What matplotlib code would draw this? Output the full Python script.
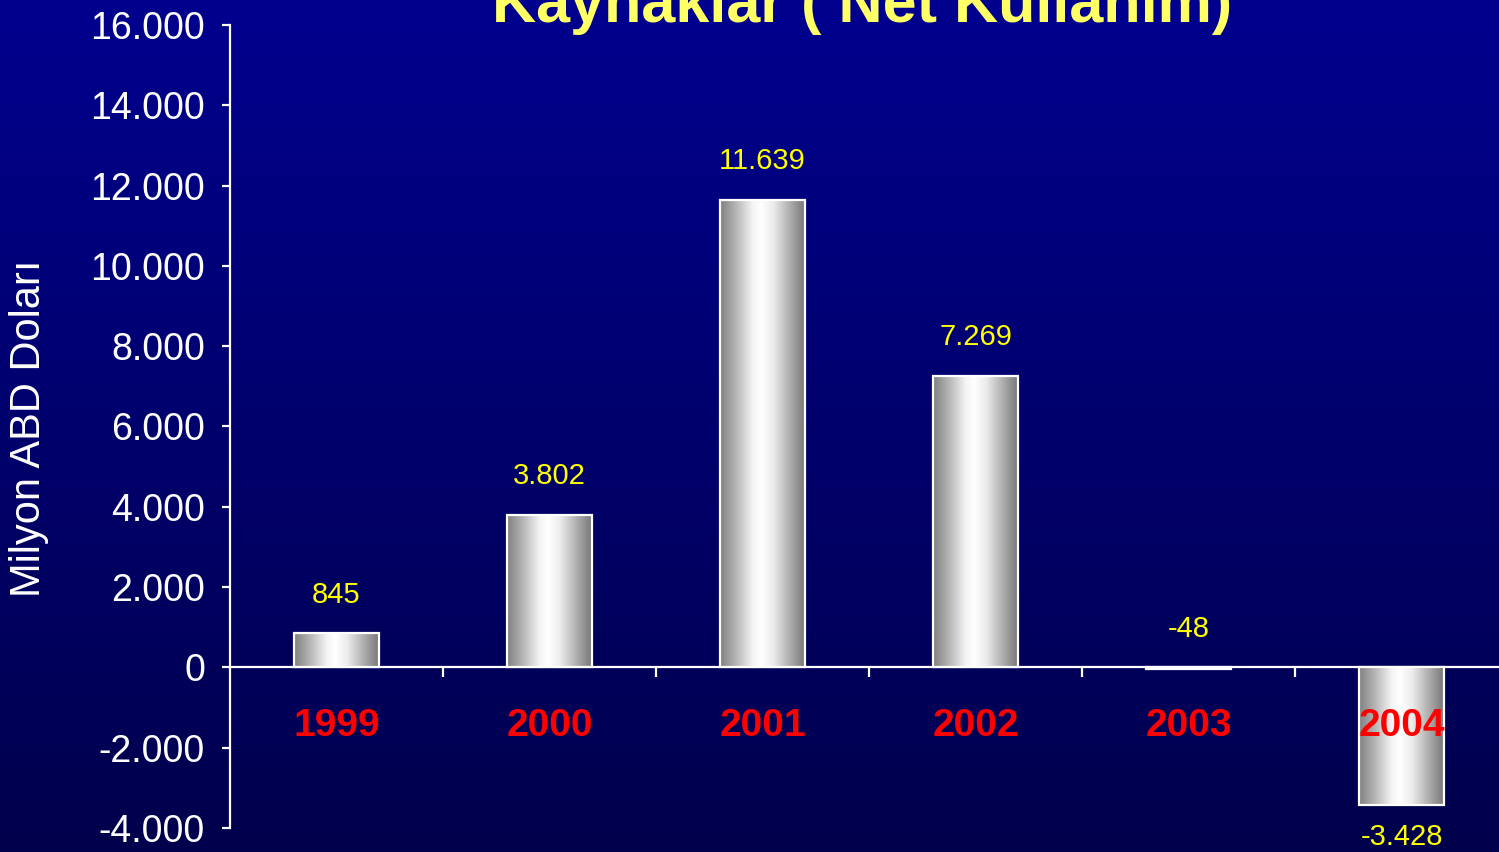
import numpy as np
import matplotlib
matplotlib.use('Agg')
import matplotlib.pyplot as plt
from matplotlib.colors import LinearSegmentedColormap

plt.rcParams['font.family'] = ['Liberation Sans', 'DejaVu Sans']

# veriler
years = ['1999', '2000', '2001', '2002', '2003', '2004']
values = [845, 3802, 11639, 7269, -48, -3428]
value_labels = ['845', '3.802', '11.639', '7.269', '-48', '-3.428']
yticks = [-4000, -2000, 0, 2000, 4000, 6000, 8000, 10000, 12000, 14000, 16000]
ytick_labels = ['-4.000', '-2.000', '0', '2.000', '4.000', '6.000', '8.000',
                '10.000', '12.000', '14.000', '16.000']

title = 'Kaynaklar ( Net Kullanım)'
ylabel = 'Milyon ABD Doları'

fig = plt.figure(figsize=(14.99, 8.52), dpi=100)

# arka plan (dikey gradyan)
bg = fig.add_axes([0, 0, 1, 1], zorder=-10)
bg_cmap = LinearSegmentedColormap.from_list('bg', ['#00004c', '#00008e'])
bg.imshow(np.linspace(0, 1, 256).reshape(-1, 1), aspect='auto', cmap=bg_cmap,
          origin='lower', extent=[0, 1, 0, 1])
bg.axis('off')

ax = fig.add_axes([230 / 1499, 1 - 828 / 852, 1278 / 1499, 803 / 852])
ax.patch.set_alpha(0)

x = np.arange(len(years))
bars = ax.bar(x, values, width=0.4, facecolor='none', edgecolor='white',
              linewidth=1.6, zorder=3)

# bar dolgusu: yatay gri-beyaz gradyan
bar_cmap = LinearSegmentedColormap.from_list(
    'bar', [(0, '#808080'), (0.18, '#b4b4b4'), (0.38, '#f4f4f4'),
            (0.48, '#ffffff'), (0.62, '#ececec'), (0.82, '#acacac'),
            (1, '#747474')])
grad = np.linspace(0, 1, 256).reshape(1, -1)
for b in bars:
    x0, y0 = b.get_x(), b.get_y()
    w, h = b.get_width(), b.get_height()
    im = ax.imshow(grad, aspect='auto', cmap=bar_cmap, zorder=2,
                   extent=[x0, x0 + w, min(y0, y0 + h), max(y0, y0 + h)])
    im.set_clip_path(b)

ax.set_xlim(-0.5, 5.5)
ax.set_ylim(-4000, 16000)

# eksenler
for s in ['top', 'right', 'bottom']:
    ax.spines[s].set_visible(False)
ax.spines['left'].set_color('white')
ax.spines['left'].set_linewidth(1.6)
ax.axhline(0, color='white', linewidth=1.6, zorder=1)

ax.set_yticks(yticks)
ax.set_yticklabels(ytick_labels)
ax.tick_params(axis='y', colors='white', labelsize=27, length=6, width=1.6,
               direction='out', pad=12)
ax.set_xticks([])
for xb in np.arange(0.5, 5.5, 1):
    ax.plot([xb, xb], [0, -250], color='white', linewidth=1.6,
            solid_capstyle='butt', clip_on=False)

# yıllar
for xi, yr in zip(x, years):
    ax.text(xi, -1450, yr, color='#ff0000', fontsize=28, fontweight='bold',
            ha='center', va='center', zorder=5)

# değer etiketleri
for xi, v, lab in zip(x, values, value_labels):
    if v < -1000:
        yy, off = v, -23
    else:
        yy, off = max(v, 0), 28
    ax.annotate(lab, (xi, yy), xytext=(0, off), textcoords='offset points',
                ha='center', va='center', color='#ffff00', fontsize=21,
                annotation_clip=False, zorder=5)

fig.text(29 / 1499, 1 - 428 / 852, ylabel, rotation=90, color='white',
         fontsize=30, ha='center', va='center')
fig.text(862 / 1499, 1 - 22 / 852, title, color='#ffff66', fontsize=44,
         fontweight='bold', ha='center', va='baseline')

fig.savefig('out.png', dpi=100)
